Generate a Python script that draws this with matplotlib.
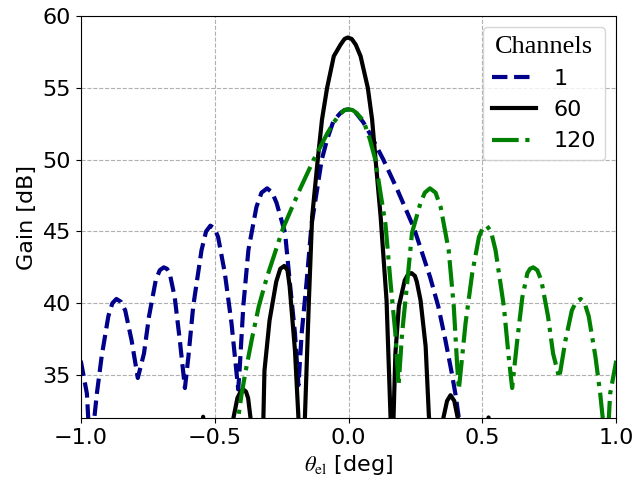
import matplotlib
matplotlib.use("Agg")
import matplotlib.pyplot as plt

# gain patterns (theta_el in deg, gain in dB)
ch1_theta = [-1.0, -0.977, -0.965, -0.955, -0.94, -0.922, -0.897, -0.882, -0.867, -0.85,
             -0.834, -0.81, -0.787, -0.764, -0.745, -0.72, -0.705, -0.69, -0.678, -0.668,
             -0.649, -0.63, -0.611, -0.598, -0.58, -0.549, -0.532, -0.516, -0.50, -0.487,
             -0.462, -0.437, -0.412, -0.406, -0.393, -0.374, -0.344, -0.325, -0.304, -0.285,
             -0.269, -0.237, -0.219, -0.2, -0.187, -0.175, -0.157, -0.138, -0.12, -0.1,
             -0.08, -0.056, -0.03, -0.015, 0.0, 0.015, 0.03, 0.055, 0.08, 0.105,
             0.13, 0.155, 0.18, 0.215, 0.245, 0.275, 0.305, 0.335, 0.36, 0.385,
             0.40, 0.412, 0.425]
ch1_gain = [36.0, 33.7, 29.5, 31.0, 33.7, 36.3, 39.1, 40.0, 40.3, 40.1,
            39.5, 37.4, 34.8, 36.5, 39.1, 41.6, 42.3, 42.5, 42.4, 42.1,
            40.4, 37.4, 34.1, 36.3, 39.8, 43.7, 45.0, 45.4, 45.2, 44.6,
            42.1, 38.6, 34.0, 35.6, 39.8, 43.7, 46.7, 47.7, 48.0, 47.7,
            47.0, 44.9, 41.4, 37.9, 34.3, 37.9, 41.4, 45.5, 47.6, 50.0,
            51.4, 52.7, 53.25, 53.45, 53.5, 53.45, 53.2, 52.6, 51.8, 50.9,
            50.0, 49.0, 48.0, 46.5, 45.2, 43.5, 41.8, 39.8, 37.6, 35.2,
            33.6, 32.0, 30.0]

ch60_theta = [-0.58, -0.543, -0.52, -0.445, -0.43, -0.415, -0.403, -0.393, -0.383, -0.375,
              -0.366, -0.342, -0.318, -0.314, -0.295, -0.27, -0.255, -0.24, -0.228, -0.22,
              -0.2, -0.187, -0.175, -0.163, -0.148, -0.136, -0.115, -0.099, -0.08, -0.055,
              -0.03, -0.015, -0.003, 0.012, 0.027, 0.045, 0.072, 0.088, 0.101, 0.12,
              0.142, 0.157, 0.162, 0.168, 0.175, 0.188, 0.21, 0.222, 0.235, 0.248,
              0.255, 0.269, 0.288, 0.30, 0.327, 0.354, 0.368, 0.381, 0.395, 0.408,
              0.465, 0.523, 0.56]
ch60_gain = [26.0, 32.1, 26.0, 28.0, 32.0, 33.4, 33.85, 34.0, 33.85, 33.4,
             32.0, 26.0, 32.0, 35.3, 38.8, 41.5, 42.4, 42.6, 42.3, 41.2,
             36.7, 32.0, 27.0, 32.0, 40.2, 46.0, 50.0, 52.8, 55.0, 57.2,
             58.0, 58.4, 58.5, 58.4, 58.0, 57.2, 55.0, 52.8, 50.0, 46.0,
             40.2, 32.0, 28.0, 32.0, 36.5, 39.8, 41.6, 42.0, 42.1, 41.9,
             41.5, 40.2, 37.0, 32.2, 26.0, 32.0, 33.2, 33.6, 33.2, 32.0,
             26.0, 32.05, 26.0]

ch120_theta = [-0.425, -0.412, -0.40, -0.385, -0.36, -0.335, -0.305, -0.275, -0.245, -0.215,
               -0.18, -0.155, -0.13, -0.105, -0.08, -0.055, -0.03, -0.015, 0.0, 0.015,
               0.03, 0.056, 0.08, 0.1, 0.12, 0.138, 0.157, 0.175, 0.187, 0.2,
               0.219, 0.237, 0.269, 0.285, 0.304, 0.325, 0.344, 0.374, 0.393, 0.406,
               0.412, 0.437, 0.462, 0.487, 0.50, 0.516, 0.532, 0.549, 0.58, 0.598,
               0.611, 0.63, 0.649, 0.668, 0.678, 0.69, 0.705, 0.72, 0.745, 0.764,
               0.787, 0.81, 0.834, 0.85, 0.867, 0.882, 0.897, 0.922, 0.94, 0.955,
               0.965, 0.977, 1.0]
ch120_gain = [30.0, 32.0, 33.6, 35.2, 37.6, 39.8, 41.8, 43.5, 45.2, 46.5,
              48.0, 49.0, 50.0, 50.9, 51.8, 52.6, 53.2, 53.45, 53.5, 53.45,
              53.25, 52.7, 51.4, 50.0, 47.6, 45.5, 41.4, 37.9, 34.3, 37.9,
              41.4, 44.9, 47.0, 47.7, 48.0, 47.7, 46.7, 43.7, 39.8, 35.6,
              34.0, 38.6, 42.1, 44.6, 45.2, 45.4, 45.0, 43.7, 39.8, 36.3,
              34.1, 37.4, 40.4, 42.1, 42.4, 42.5, 42.3, 41.6, 39.1, 36.5,
              34.8, 37.4, 39.5, 40.1, 40.3, 40.0, 39.1, 36.3, 33.7, 31.0,
              29.5, 33.7, 36.0]

plt.rcParams['mathtext.fontset'] = 'stix'

fig, ax = plt.subplots(figsize=(6.36, 4.84), dpi=100)
fig.subplots_adjust(left=0.127, right=0.969, top=0.967, bottom=0.136)

ax.plot(ch1_theta, ch1_gain, color='darkblue', linestyle='--', linewidth=3, label='1')
ax.plot(ch60_theta, ch60_gain, color='black', linestyle='-', linewidth=3, label='60')
ax.plot(ch120_theta, ch120_gain, color='green', linestyle='-.', linewidth=3, label='120')

ax.set_xlim(-1, 1)
ax.set_ylim(32, 60)
ax.set_xticks([-1.0, -0.5, 0.0, 0.5, 1.0])
ax.set_yticks([35, 40, 45, 50, 55, 60])
ax.tick_params(labelsize=16)
ax.grid(True, linestyle='--', color='#b0b0b0')

ax.set_xlabel(r'$\theta_{\rm el}$ [deg]', fontsize=16)
ax.set_ylabel('Gain [dB]', fontsize=16)

leg = ax.legend(title='Channels', fontsize=16, loc='upper right')
leg.get_title().set_fontfamily('Liberation Serif')
leg.get_title().set_fontsize(19)

fig.savefig('out.png', dpi=100)
